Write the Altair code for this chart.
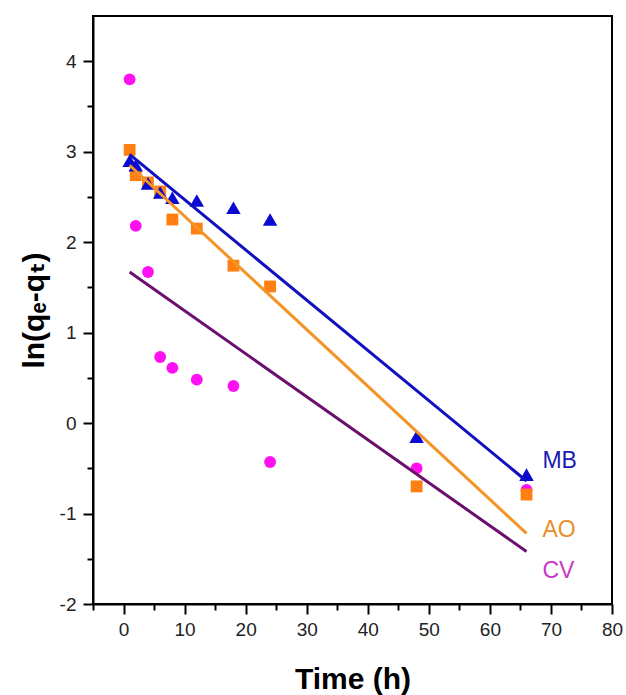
import altair as alt
import pandas as pd

# ---- data ----
time_h = [1, 2, 4, 6, 8, 12, 18, 24, 48, 66]
mb_vals = [2.90, 2.85, 2.65, 2.55, 2.49, 2.46, 2.38, 2.25, -0.15, -0.57]
ao_vals = [3.02, 2.74, 2.66, 2.56, 2.25, 2.15, 1.74, 1.51, -0.70, -0.79]
cv_vals = [3.80, 2.18, 1.67, 0.73, 0.61, 0.48, 0.41, -0.43, -0.50, -0.74]

fit_t = [1, 66]
mb_fit = [2.97, -0.64]
ao_fit = [2.85, -1.22]
cv_fit = [1.67, -1.42]

series = ["MB", "AO", "CV"]
label_x = [68.6, 68.6, 68.6]
label_y = [-0.50, -1.26, -1.71]

x_ticks = [-5, 0, 5, 10, 15, 20, 25, 30, 35, 40, 45, 50, 55, 60, 65, 70, 75, 80]
y_ticks = [-2, -1.5, -1, -0.5, 0, 0.5, 1, 1.5, 2, 2.5, 3, 3.5, 4]

marker_colors = ["#0A0AD2", "#FF8010", "#FF10F0"]
line_colors = ["#1010C0", "#F39426", "#6A0F6E"]
label_colors = ["#1A1AB4", "#E8902A", "#C838C8"]
shapes = ["triangle-up", "square", "circle"]
sizes = [210, 140, 140]

# ---- tables ----
pts = pd.DataFrame({
    "t": time_h * 3,
    "v": mb_vals + ao_vals + cv_vals,
    "s": ["MB"] * len(time_h) + ["AO"] * len(time_h) + ["CV"] * len(time_h),
})
fits = pd.DataFrame({
    "t": fit_t * 3,
    "v": mb_fit + ao_fit + cv_fit,
    "s": ["MB"] * 2 + ["AO"] * 2 + ["CV"] * 2,
})
labels = pd.DataFrame({"t": label_x, "v": label_y, "s": series, "c": label_colors})

font = "Liberation Sans, Arial, DejaVu Sans"

x_scale = alt.Scale(domain=[-5, 80], nice=False, zero=False)
y_scale = alt.Scale(domain=[-2, 4.5], nice=False, zero=False)

x_axis = alt.Axis(
    values=x_ticks,
    labelExpr="datum.value % 10 === 0 ? '' + datum.value : ''",
    tickSize={"condition": {"test": "datum.value % 10 === 0", "value": 10}, "value": 6},
    tickWidth=2, tickColor="black", domainWidth=2, domainColor="black",
    labelFontSize=19, labelFont=font, labelColor="#222222", labelPadding=6,
    grid=False, title="Time (h)", titleFont=font, titleFontSize=30,
    titleFontWeight="bold", titleColor="black", titleBaseline="alphabetic",
    titleY=84, labelFlush=False, labelOverlap=False,
)
y_axis = alt.Axis(
    values=y_ticks,
    labelExpr="datum.value % 1 === 0 ? '' + datum.value : ''",
    tickSize={"condition": {"test": "datum.value % 1 === 0", "value": 10}, "value": 6},
    tickWidth=2, tickColor="black", domainWidth=2, domainColor="black",
    labelFontSize=19, labelFont=font, labelColor="#222222", labelPadding=7,
    grid=False, title="ln(qₑ-qₜ)", titleFont=font, titleFontSize=30,
    titleFontWeight="bold", titleColor="black", titleBaseline="alphabetic",
    titleAngle=270, titleAlign="center", titleX=-50, titleY=294,
    labelFlush=False, labelOverlap=False,
)

point_layers = []
for name, col, shp, sz in zip(series[::-1], marker_colors[::-1], shapes[::-1], sizes[::-1]):
    layer = alt.Chart(pts).transform_filter(alt.datum.s == name).mark_point(
        shape=shp, filled=True, color=col, size=sz, opacity=1, strokeWidth=0
    ).encode(
        x=alt.X("t:Q", scale=x_scale, axis=x_axis),
        y=alt.Y("v:Q", scale=y_scale, axis=y_axis),
    )
    point_layers.append(layer)

line_layers = []
for name, col in zip(series, line_colors):
    layer = alt.Chart(fits).transform_filter(alt.datum.s == name).mark_line(
        color=col, strokeWidth=3
    ).encode(
        x=alt.X("t:Q", scale=x_scale, axis=x_axis),
        y=alt.Y("v:Q", scale=y_scale, axis=y_axis),
    )
    line_layers.append(layer)

text_layer = alt.Chart(labels).mark_text(
    align="left", baseline="alphabetic", fontSize=23, font=font
).encode(
    x=alt.X("t:Q", scale=x_scale, axis=x_axis),
    y=alt.Y("v:Q", scale=y_scale, axis=y_axis),
    text="s:N",
    color=alt.Color("c:N", scale=None, legend=None),
)

chart = alt.layer(*point_layers, *line_layers, text_layer).properties(
    width=519,
    height=588,
    autosize=alt.AutoSizeParams(type="none"),
    padding={"left": 93, "top": 16, "right": 14, "bottom": 91},
    background="white",
).configure_view(stroke="black", strokeWidth=2)

chart.save("out.html", embed_options={"renderer": "svg", "actions": False})
